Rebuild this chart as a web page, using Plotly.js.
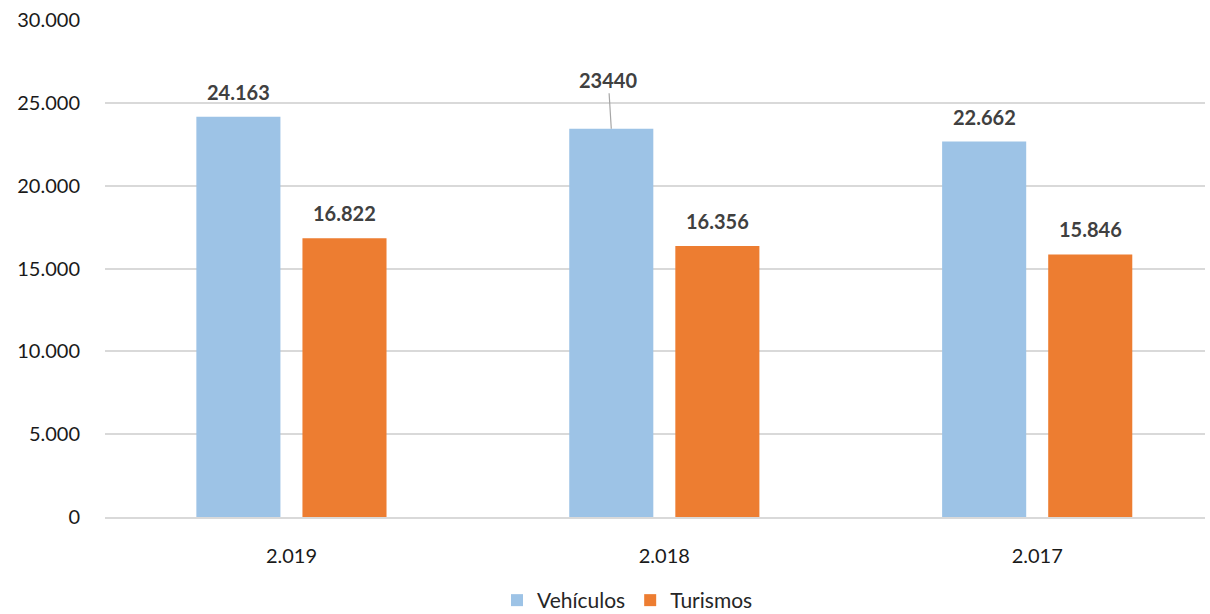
<!DOCTYPE html>
<html>
<head>
<meta charset="utf-8">
<script src="https://cdn.plot.ly/plotly-3.0.1.min.js"></script>
<style>html,body{margin:0;padding:0;background:#fff;}#chart{width:1210px;height:614px;}</style>
</head>
<body>
<div id="chart"></div>
<script>
const categories = ["2.019", "2.018", "2.017"];
const vehiculos = [24163, 23440, 22662];
const turismos = [16822, 16356, 15846];
const vehiculosLabels = ["24.163", "23440", "22.662"];
const turismosLabels = ["16.822", "16.356", "15.846"];
const tickVals = [0, 5000, 10000, 15000, 20000, 25000, 30000];
const tickText = ["0", "5.000", "10.000", "15.000", "20.000", "25.000", "30.000"];

const font = "Lato, 'Open Sans', sans-serif";
const xIdx = categories.map((c, i) => i);

const traces = [
  {type: "bar", name: "Vehículos", x: xIdx, y: vehiculos, marker: {color: "#9DC3E6"}, hoverinfo: "none"},
  {type: "bar", name: "Turismos", x: xIdx, y: turismos, marker: {color: "#ED7D31"}, hoverinfo: "none"}
];

const slot = (1 - 0.431) / 2;
const labelFont = {family: font, size: 20, color: "#404040"};
const annotations = [];
xIdx.forEach(i => {
  const xv = i - slot / 2;
  const xt = i + slot / 2;
  if (vehiculosLabels[i] === "23440") {
    annotations.push({x: xv, y: vehiculos[i], xref: "x", yref: "y", text: "<b>" + vehiculosLabels[i] + "</b>",
      showarrow: true, arrowhead: 0, arrowwidth: 1.2, arrowcolor: "#a6a6a6", ax: -3, ay: -49,
      font: labelFont});
  } else {
    annotations.push({x: xv, y: vehiculos[i], xref: "x", yref: "y", text: "<b>" + vehiculosLabels[i] + "</b>",
      showarrow: false, yanchor: "bottom", yshift: 11, font: labelFont});
  }
  annotations.push({x: xt, y: turismos[i], xref: "x", yref: "y", text: "<b>" + turismosLabels[i] + "</b>",
    showarrow: false, yanchor: "bottom", yshift: 11, font: labelFont});
});

const layout = {
  width: 1210, height: 614,
  margin: {l: 105, r: 5, t: 20, b: 97},
  paper_bgcolor: "#fff", plot_bgcolor: "#fff",
  barmode: "group", bargap: 0.431, bargroupgap: 0.2075,
  showlegend: true,
  legend: {orientation: "h", x: 0.475, xanchor: "center", xref: "paper", yref: "container", y: 0.022, yanchor: "middle",
    font: {family: font, size: 21, color: "#262626"}, traceorder: "normal"},
  xaxis: {range: [-0.5, 2.45], tickvals: xIdx, ticktext: categories, showgrid: false, zeroline: false,
    showline: true, linecolor: "#d9d9d9", linewidth: 2, ticks: "", ticklen: 0, ticklabelstandoff: 20,
    tickfont: {family: font, size: 20, color: "#1a1a1a"}, fixedrange: true},
  yaxis: {range: [0, 30000], tickvals: tickVals, ticktext: tickText, showgrid: true, gridcolor: "#d9d9d9",
    gridwidth: 2, zeroline: false, showline: false, ticks: "", ticklabelstandoff: 24,
    tickfont: {family: font, size: 20, color: "#1a1a1a"}, fixedrange: true},
  annotations: annotations
};

Plotly.newPlot("chart", traces, layout, {displayModeBar: false, staticPlot: true});
</script>
</body>
</html>
